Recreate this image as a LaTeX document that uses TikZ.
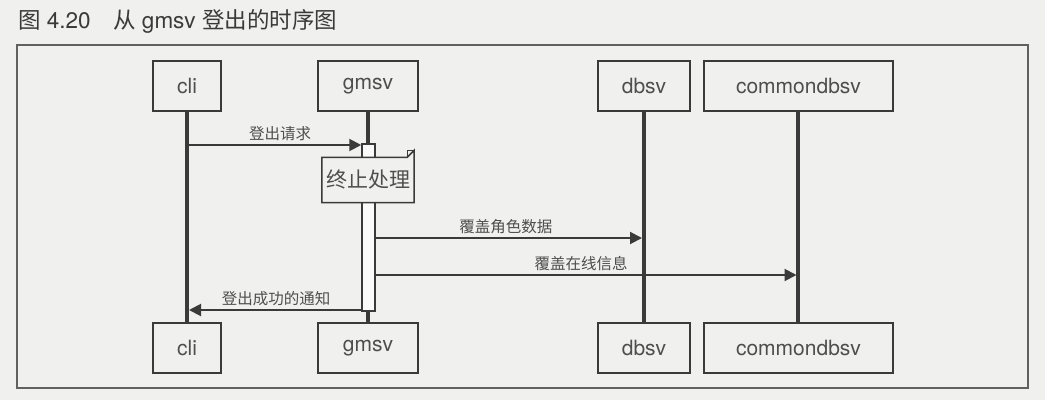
\documentclass[tikz,border=0pt]{standalone}
\usepackage{fontspec}
\setmainfont{TeX Gyre Heros}
\newfontfamily\cjk{Noto Sans CJK SC}
\usetikzlibrary{arrows.meta}
\definecolor{ink}{RGB}{58,58,58}
\definecolor{txt}{RGB}{78,78,78}
\definecolor{paper}{RGB}{240,240,238}

\tikzset{
  actor/.style={draw=ink, line width=2.4pt, fill=paper, minimum width=#1, minimum height=50pt, inner sep=0pt, text=txt, font=\fontsize{21}{21}\selectfont},
  life/.style={draw=ink, line width=4pt},
  msg/.style={draw=ink, line width=2pt, -{Triangle[length=12pt,width=12pt]}},
  msglabel/.style={text=txt, font=\cjk\fontsize{15.5}{15.5}\selectfont, inner sep=3pt},
}

\begin{document}
\begin{tikzpicture}[x=1pt,y=1pt,yscale=-1,xscale=1]
        \useasboundingbox (0,0) rectangle (1045,400);
        \fill [paper] (0,0) rectangle (1045,400);
        
        % Title
        \node [anchor=west, inner sep=0pt, text=ink, font=\fontsize{22.5}{22.5}\selectfont] (title) at (18,21) {{\cjk 图} 4.20\hspace{1em}{\cjk 从} gmsv {\cjk 登出的时序图}};
        %Shape: Rectangle (frame)
        \draw [draw=ink!80, line width=1.2pt] (17,45) rectangle (1028,388);
        
        % Row positions of the messages
        \coordinate (y1) at (0,145);
        \coordinate (y2) at (0,238);
        \coordinate (y3) at (0,275);
        \coordinate (y4) at (0,310);
        
        % Lifelines
        \draw [life] (187,86) -- (187,348);
        \draw [life] (368,86) -- (368,348);
        \draw [life] (644,86) -- (644,348);
        \draw [life] (798,86) -- (798,348);
        
        % Participants (top)
        \node [actor=68pt] (cliT) at (187,86) {cli};
        \node [actor=100pt] (gmsvT) at (368,86) {gmsv};
        \node [actor=92pt] (dbT) at (644,86) {dbsv};
        \node [actor=189pt] (cdbT) at (798.5,86) {commondbsv};
        % Participants (bottom)
        \node [actor=68pt] (cliB) at (187,348) {cli};
        \node [actor=100pt] (gmsvB) at (368,348) {gmsv};
        \node [actor=92pt] (dbB) at (644,348) {dbsv};
        \node [actor=189pt] (cdbB) at (798.5,348) {commondbsv};
        
        %Shape: Activation bar
        \node [draw=ink, line width=1.5pt, fill=white!70!paper, minimum width=13pt, minimum height=167pt, inner sep=0pt] (gact) at (368.5,227.5) {};
        
        %Shape: Note
        \node [minimum width=92pt, minimum height=45pt, inner sep=0pt] (stop) at (368,180) {};
        \draw [draw=ink, line width=1.5pt, fill=paper, line join=miter] (stop.north west) -- ([xshift=-7pt]stop.north east) -- ([yshift=-7pt]stop.north east) -- (stop.south east) -- (stop.south west) -- cycle;
        \draw [draw=ink, line width=1.2pt] ([xshift=-7pt]stop.north east) -- ([xshift=-7pt,yshift=-7pt]stop.north east) -- ([yshift=-7pt]stop.north east);
        \node [text=txt, font=\cjk\fontsize{21}{21}\selectfont] (stoptext) at (stop.center) {终止处理};
        
        % Messages
        \draw [msg] (cliT |- y1) -- node [msglabel, above, xshift=6pt] {登出请求} (gact.west |- y1);
        \draw [msg, shorten >=2pt] (gact.east |- y2) -- node [msglabel, above, xshift=-4pt] {覆盖角色数据} (dbT |- y2);
        \draw [msg, shorten >=2pt] (gact.east |- y3) -- node [msglabel, above, xshift=-6pt] {覆盖在线信息} (cdbT |- y3);
        \draw [msg, shorten >=2pt] (gact.west |- y4) -- node [msglabel, above, xshift=2pt] {登出成功的通知} (cliT |- y4);
        
\end{tikzpicture}
\end{document}
